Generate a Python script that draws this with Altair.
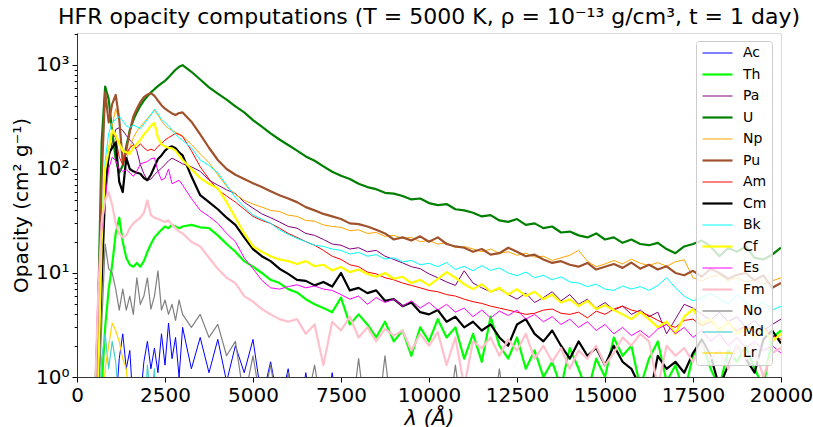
import altair as alt
import pandas as pd

# sampling grid (Å): 100 Å steps up to 3000, 250 Å steps after
wl_early = list(range(500, 3001, 100))
wl_late = list(range(3250, 20001, 250))
wavelength = wl_early + wl_late

elements = ["Ac", "Th", "Pa", "U", "Np", "Pu", "Am", "Cm", "Bk", "Cf", "Es", "Fm", "No", "Md", "Lr"]
colors = ["#0000ff", "#00ff00", "#800080", "#008000", "#ffa500", "#a0522d", "#ff0000", "#000000",
          "#00ffff", "#ffff00", "#ff00ff", "#ffc0cb", "#808080", "#48d1cc", "#ffd700"]
widths = [1, 2.2, 1, 2.2, 1, 2.2, 1, 2.2, 1, 2.2, 1, 2.2, 1.2, 1.2, 1.2]

U = [0.5, 4, 180, 620, 470, 230, 125, 92, 108, 165, 235, 295, 350, 405, 455, 500, 545, 585, 625, 665, 705, 760, 830, 900, 960, 995,
     860, 725, 610, 530, 465, 400, 350, 295, 255, 220, 192, 170, 150, 132, 120, 106,
     94, 86, 80, 72, 67, 64, 59, 58, 55, 51, 52, 47, 45, 46, 41, 40,
     38, 35, 36, 32, 31, 33, 29, 30, 27, 28, 24.5, 25, 23, 22, 24, 21,
     22, 19.5, 21, 19, 18.5, 19.5, 17, 15.5, 18, 19, 20.5, 18, 14.5, 17.5, 16, 18,
     14, 13.5, 15, 17.5]
Pu = [0.5, 3, 80, 550, 280, 420, 515, 300, 115, 150, 230, 320, 380, 440, 490, 520, 535, 505, 455, 410, 380, 360, 342, 330, 345, 350,
      285, 215, 160, 122, 100, 88, 80, 73, 67, 61, 56, 52, 48, 43, 40, 37,
      35, 33, 30, 29.5, 28, 26, 24, 21, 22, 20.5, 22.5, 20, 22, 19, 18, 17.5,
      16, 17, 15, 15.5, 17.5, 16, 14.5, 15, 13.5, 12.5, 13, 12, 11.5, 12.5, 10.8, 11.5,
      12.2, 11.2, 12.6, 11, 12, 10.8, 11.6, 10, 9.5, 10.5, 9.2, 11, 10, 8.8, 9.6, 10,
      8.5, 9.5, 7.2, 8]
Np = [0.5, 0.8, 12, 60, 140, 260, 380, 290, 125, 120, 160, 200, 230, 255, 280, 305, 335, 365, 330, 290, 262, 245, 235, 225, 216, 208,
      172, 140, 115, 88, 68, 57, 50, 46, 43, 40, 39, 36, 35, 32, 31.5, 29,
      28, 27.5, 25.5, 26, 24, 24.5, 22.5, 23, 21.5, 22, 20, 20.5, 19, 19.5, 17.5, 18,
      17, 16, 17, 15.5, 16, 14.8, 15.5, 14.2, 14.5, 13.2, 14, 14.8, 16.5, 13, 11.5, 12.2,
      13.2, 12.2, 13.6, 12.4, 11.8, 12.6, 11.6, 12.8, 13.4, 9, 8.4, 9.2, 9.6, 8.4, 9, 8.2,
      8.6, 7.8, 8.4, 9]
Am = [0.5, 1, 20, 90, 160, 220, 200, 130, 110, 140, 160, 170, 160, 175, 160, 150, 155, 150, 165, 175, 190, 200, 210, 220, 215, 205,
      150, 105, 80, 63, 55, 48, 41, 35, 32, 30, 27, 24, 22, 20, 18.5, 16.5,
      14.5, 13.5, 12, 11.5, 10.2, 9.8, 9, 8.6, 8, 7.6, 7.2, 6.8, 6.6, 6.2, 6.0, 5.6,
      5.3, 5.1, 4.8, 4.6, 4.4, 4.2, 4.0, 4.1, 4.4, 4.5, 4.1, 4.0, 4.2, 3.7, 4.3, 4.0,
      4.5, 4.8, 4.4, 4.2, 3.9, 3.5, 3.2, 3.0, 3.5, 3.6, 3.1, 3.4, 2.9, 3.3, 2.8, 3.1,
      2.7, 3.0, 2.5, 2.3]
Cm = [0.5, 0.7, 8, 60, 140, 160, 180, 75, 60, 128, 100, 95, 92, 90, 82, 78, 88, 105, 125, 135, 150, 160, 165, 158, 145, 135,
      85, 56, 48, 41, 34, 29, 22, 17, 14.5, 13, 11, 9.8, 8.6, 8.4, 7.6, 8.2,
      7.4, 10, 6.8, 7.2, 6.4, 6.8, 5.4, 5.6, 4.8, 5.2, 4.2, 4.0, 4.4, 3.4, 3.8, 3.0,
      3.4, 2.8, 3.2, 2.4, 2.0, 3.2, 3.6, 2.6, 2.2, 2.8, 2.0, 1.5, 2.2, 1.6, 1.9, 1.3,
      2.0, 1.4, 1.2, 0.8, 0.6, 1.6, 1.2, 1.4, 1.1, 1.7, 2.3, 1.6, 0.8, 1.3, 2.0, 1.5,
      1.1, 2.3, 2.8, 2.1]
Bk = [0.5, 0.8, 30, 120, 220, 280, 300, 320, 290, 260, 250, 265, 255, 245, 270, 300, 330, 375, 340, 300, 280, 260, 235, 215, 200, 188,
      160, 122, 108, 92, 70, 53, 43, 36, 33, 30, 26, 23.5, 21.5, 20, 18.5, 18,
      17, 16.5, 15.2, 15.8, 14.5, 15, 13.6, 14, 12.8, 13.2, 12, 12.4, 11.5, 12.6, 10.8, 11.6,
      10.5, 11.8, 10.6, 11.2, 10.0, 9.4, 10.2, 9.0, 9.5, 8.6, 9.2, 8.2, 8.0, 7.4, 7.8, 7.0,
      6.8, 7.5, 7.0, 7.4, 6.8, 7.6, 9.0, 7.2, 6.0, 5.4, 5.8, 6.4, 5.6, 5.0, 6.2, 5.2,
      4.6, 5.3, 4.4, 4.8]
Cf = [0.5, 0.8, 20, 100, 150, 235, 210, 175, 150, 145, 140, 160, 175, 190, 215, 235, 260, 278, 200, 172, 165, 160, 158, 150, 135, 122,
      100, 82, 72, 65, 48, 34, 24, 18, 16, 14.5, 13.5, 13, 12.2, 13, 11.6, 12,
      10.6, 11.4, 10.2, 10.8, 9.8, 9.2, 10.0, 8.8, 9.2, 8.0, 8.6, 7.6, 8.8, 10.2, 9.0, 7.8,
      7.0, 7.8, 6.6, 7.2, 6.2, 7.0, 6.0, 6.6, 5.6, 6.2, 5.2, 5.6, 4.8, 5.4, 4.5, 4.9,
      4.4, 4.0, 3.6, 4.2, 3.6, 3.0, 3.4, 2.6, 3.8, 4.5, 3.2, 3.6, 2.8, 3.4, 2.6, 3.0,
      2.4, 2.9, 2.2, 2.6]
Es = [0.5, 8, 25, 50, 100, 130, 120, 100, 95, 98, 92, 85, 95, 112, 115, 118, 125, 128, 95, 78, 82, 100, 72, 75, 78, 70,
      52, 40, 35, 30, 24, 20, 14, 11, 8.5, 7.2, 7.0, 7.4, 7.7, 7.2, 7.5, 7.0,
      6.8, 6.2, 5.6, 6.0, 5.0, 5.8, 5.2, 5.6, 4.8, 5.4, 4.6, 5.2, 4.4, 5.0, 4.2, 4.6,
      3.8, 4.4, 3.7, 4.3, 3.9, 4.4, 3.6, 4.0, 3.4, 3.8, 3.2, 3.6, 3.0, 3.4, 2.8, 3.2,
      2.6, 3.0, 2.5, 2.8, 2.4, 2.9, 3.2, 2.6, 3.0, 2.4, 2.8, 2.2, 2.6, 2.0, 2.4, 1.9,
      2.2, 1.8, 2.0, 1.7]
Fm = [0.5, 6, 30, 50, 60, 45, 30, 24, 22, 23, 27, 30, 32, 34, 38, 50, 36, 34, 33, 32, 31, 32, 29, 27, 25, 24,
      20, 18, 14, 11, 9, 8, 6, 5.3, 4.5, 4.0, 3.6, 3.4, 3.6, 2.6, 3.2, 1.3,
      3.4, 2.8, 3.8, 2.4, 3.0, 2.2, 2.9, 2.5, 2.8, 1.8, 2.6, 2.0, 2.7, 1.3, 2.4, 0.8,
      2.2, 1.9, 2.4, 1.6, 2.3, 1.8, 2.6, 1.5, 2.0, 1.4, 1.9, 1.2, 1.8, 1.5, 2.0, 1.3,
      1.7, 2.4, 2.0, 2.6, 2.2, 0.8, 2.0, 1.6, 1.9, 1.4, 2.1, 1.5, 1.8, 1.2, 2.0, 1.5,
      1.9, 1.0, 1.7, 1.9]
Th = [0.3, 0.3, 0.8, 3, 7, 12, 24, 34, 20, 14, 12, 11.5, 12.5, 11.5, 13, 16, 19, 22, 24, 26, 28, 27, 29, 28, 27, 28,
      29, 27.5, 27, 23, 19, 16, 13, 11.5, 10, 8.6, 8, 7, 6.5, 5.6, 5, 4.6,
      4.2, 5.8, 3.2, 4.0, 3.2, 2.4, 3.4, 2.2, 2.8, 1.6, 3.0, 2.2, 3.6, 2.4, 3.0, 1.5,
      2.6, 1.4, 3.8, 2.0, 1.5, 2.4, 1.2, 1.8, 1.0, 1.4, 0.8, 1.9, 1.2, 0.7, 1.5, 1.0,
      2.4, 1.6, 2.0, 0.8, 1.5, 2.2, 0.9, 1.3, 0.7, 1.6, 2.2, 1.2, 0.8, 1.8, 1.4, 2.0,
      1.2, 0.8, 2.4, 2.8]
Pa = [0.5, 0.8, 10, 60, 120, 180, 240, 250, 235, 210, 190, 175, 150, 110, 90, 78, 80, 88, 95, 102, 110, 120, 127, 122, 117, 112,
      105, 95, 78, 70, 63, 58, 48, 42, 37, 34, 31, 28, 27, 24, 23, 21,
      19, 18.5, 17, 17.5, 16, 16.5, 14.5, 13.5, 12.5, 11.5, 11, 9.8, 9.0, 8.2, 7.6, 10.5,
      8.0, 7.2, 6.6, 7.0, 6.2, 5.6, 6.4, 5.2, 5.8, 6.6, 5.4, 6.2, 5.0, 5.6, 4.6, 5.2,
      4.4, 4.8, 4.0, 4.4, 3.8, 4.2, 2.6, 3.6, 5.0, 4.6, 4.0, 3.5, 4.2, 3.4, 3.8, 3.0,
      3.5, 2.8, 3.2, 3.6]
No = [0.3, 0.5, 3, 19, 11, 10, 7, 4.4, 7, 4.4, 6, 4, 9, 5, 6, 9, 4.5, 6, 10.5, 4.4, 5.5, 4, 5, 3.5, 5.5, 4,
      3.0, 4.0, 2.4, 3.2, 1.6, 2.2, 0.6, 1.6, 0.5, 1.3, 0.4, 1.1, 0.4, 0.5, 1.3, 0.4,
      0.4, 0.3, 0.3, 1.5, 0.3, 0.3, 1.6, 0.3, 0.3, 0.3, 0.3, 0.3, 0.3, 0.3, 1.3, 0.3,
      0.3, 0.3, 0.3, 1.2, 0.3, 0.3, 0.3, 0.3, 0.3, 0.3, 0.3, 0.3, 0.3, 0.3, 0.3, 0.3,
      0.3, 0.3, 0.3, 0.3, 0.3, 0.3, 0.3, 0.3, 0.3, 0.3, 0.3, 0.3, 0.3, 0.3, 0.3, 0.3,
      0.3, 0.3, 0.3, 0.3]
Ac = [0.3, 0.3, 0.3, 0.3, 0.3, 0.3, 0.5, 1.5, 2.6, 1.2, 1.8, 0.5, 0.4, 0.6, 1.4, 2.2, 1.2, 1.9, 1.1, 2.6, 1.3, 3.3, 1.5, 2.4, 1.0, 3.0,
      1.2, 2.4, 1.1, 2.3, 0.9, 2.0, 1.1, 2.3, 0.6, 1.4, 0.5, 1.2, 0.3, 1.1, 0.3, 0.3,
      1.1, 0.3, 0.3, 0.3, 0.3, 0.3, 0.3, 0.3, 0.3, 0.3, 0.3, 0.3, 0.3, 0.3, 0.3, 0.3,
      0.3, 0.3, 0.3, 0.3, 0.3, 0.3, 0.3, 0.3, 0.3, 0.3, 0.3, 0.3, 0.3, 0.3, 0.3, 0.3,
      0.3, 0.3, 0.3, 0.3, 0.3, 0.3, 0.3, 0.3, 0.3, 0.3, 0.3, 0.3, 0.3, 0.3, 0.3, 0.3,
      0.3, 0.3, 0.3, 0.3]
# Md and Lr only rise above the axis bottom below 3000 Å
Md = [0.3, 0.3, 1.5, 2.6, 1.2, 2.2, 1.4, 0.5, 0.3, 0.3, 0.3, 0.3, 0.3, 0.3, 0.3, 1.3, 0.6, 1.2, 0.3, 0.3, 0.3, 0.3, 0.3, 0.3, 0.3, 0.3]
Lr = [0.3, 0.3, 0.3, 1.2, 2.0, 3.3, 2.8, 2.2, 1.5, 1.2, 0.5, 0.3, 0.3, 0.3, 0.3, 0.3, 0.3, 0.3, 0.3, 0.3, 0.3, 0.3, 0.3, 0.3, 0.3, 0.3]

series = {"Ac": Ac, "Th": Th, "Pa": Pa, "U": U, "Np": Np, "Pu": Pu, "Am": Am, "Cm": Cm,
          "Bk": Bk, "Cf": Cf, "Es": Es, "Fm": Fm, "No": No, "Md": Md, "Lr": Lr}

rows = []
for name in elements:
    for w, v in zip(wavelength, series[name]):
        rows.append({"wavelength": w, "opacity": v, "element": name})
df = pd.DataFrame(rows)

FONT = "DejaVu Sans"
x_ticks = [0, 2500, 5000, 7500, 10000, 12500, 15000, 17500, 20000]
y_major = [1, 10, 100, 1000]
y_minor = [2, 3, 4, 5, 6, 7, 8, 9, 20, 30, 40, 50, 60, 70, 80, 90,
           200, 300, 400, 500, 600, 700, 800, 900, 2000]

x_scale = alt.Scale(domain=[0, 20000], nice=False, zero=False)
y_scale = alt.Scale(type="log", domain=[1, 2030], nice=False)

x_enc = alt.X("wavelength:Q", scale=x_scale, title="λ (Å)",
              axis=alt.Axis(values=x_ticks, format="d", labelFont=FONT, labelFontSize=20,
                            labelColor="#000", tickSize=5, tickColor="#000", labelPadding=3,
                            titleFont=FONT, titleFontSize=21, titleFontStyle="italic",
                            titleFontWeight="normal", titleColor="#000",
                            titleBaseline="alphabetic", titleY=47,
                            domainColor="#333", grid=False, labelFlush=False))
y_enc = alt.Y("opacity:Q", scale=y_scale, title="Opacity (cm² g⁻¹)",
              axis=alt.Axis(values=y_major,
                            labelExpr="datum.value == 1 ? '10⁰' : datum.value == 10 ? '10¹' : datum.value == 100 ? '10²' : '10³'",
                            labelFont=FONT, labelFontSize=20, labelColor="#000",
                            tickSize=5, tickColor="#000", labelPadding=3,
                            titleFont=FONT, titleFontSize=20, titleFontWeight="normal",
                            titleColor="#000", titleX=-56, titleBaseline="middle",
                            domainColor="#333", grid=False))

legend = alt.Legend(orient="none", legendX=619, legendY=8, title=None, direction="vertical",
                    symbolType="M-2.5,0H2.5", symbolSize=144, symbolOffset=9,
                    labelFont=FONT, labelFontSize=14, labelColor="#000", labelOffset=18,
                    rowPadding=7, padding=5, fillColor="rgba(255,255,255,0.8)",
                    strokeColor="#cccccc", cornerRadius=3)

color_enc = alt.Color("element:N", scale=alt.Scale(domain=elements, range=colors),
                      sort=elements, legend=legend)
width_enc = alt.StrokeWidth("element:N", scale=alt.Scale(type="ordinal", domain=elements, range=widths),
                            sort=elements, legend=legend)

base = alt.Chart(df)
layers = []
for name in elements:
    layers.append(
        base.transform_filter(alt.datum.element == name)
        .mark_line(clip=True, strokeJoin="round", strokeCap="butt")
        .encode(x=x_enc, y=y_enc, color=color_enc, strokeWidth=width_enc)
    )
lines = alt.layer(*layers)

minor = base.transform_filter(alt.datum.element == "U").mark_line(opacity=0, clip=True).encode(
    x=x_enc,
    y=alt.Y("opacity:Q", scale=y_scale,
            axis=alt.Axis(values=y_minor, labels=False, domain=False, tickSize=2.8,
                          tickColor="#000", grid=False, title=None, orient="left")),
)

chart = alt.layer(lines, minor).resolve_axis(y="independent").properties(
    width=704, height=344,
    autosize=alt.AutoSizeParams(type="none"),
    padding={"left": 77, "top": 33, "right": 32, "bottom": 50},
    title=alt.TitleParams(text="HFR opacity computations (T = 5000 K, ρ = 10⁻¹³ g/cm³, t = 1 day)",
                          font=FONT, fontSize=22, fontWeight="normal", color="#000",
                          anchor="middle", offset=4),
).configure_view(stroke="#333", strokeWidth=1).configure(background="white")

chart.save("out.html", embed_options={"renderer": "svg", "actions": False})
